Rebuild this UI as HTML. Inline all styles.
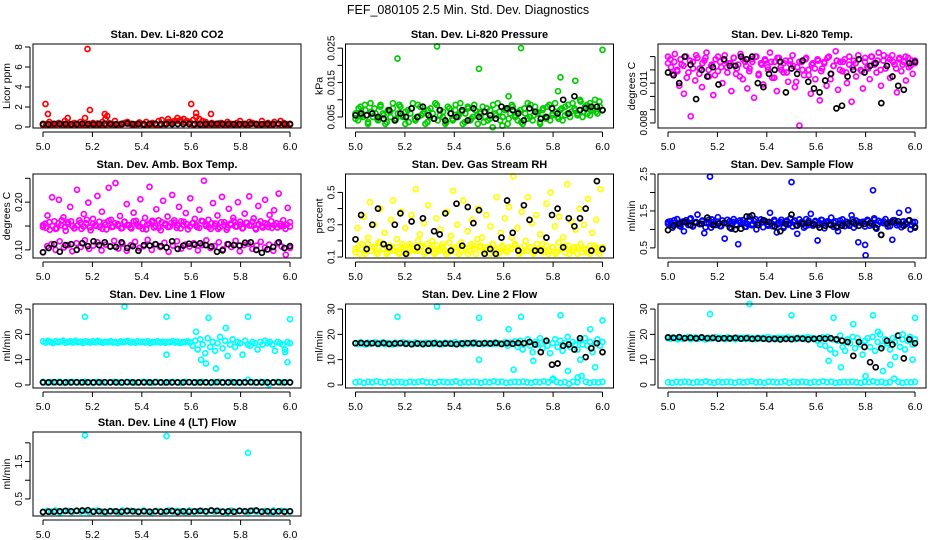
<!DOCTYPE html>
<html><head><meta charset="utf-8"><style>
html,body{margin:0;padding:0;background:#fff;}
svg{display:block;font-family:"Liberation Sans",sans-serif;}
</style></head><body>
<svg id="chart" width="936" height="540" viewBox="0 0 936 540" xmlns="http://www.w3.org/2000/svg">
<rect x="0" y="0" width="936" height="540" fill="#fff"/>
<text x="468" y="14" text-anchor="middle" font-size="12.5">FEF_080105  2.5 Min. Std. Dev. Diagnostics</text>
</svg>
<script>
const xTicks=[5.0,5.2,5.4,5.6,5.8,6.0];
const xTickLabels=['5.0','5.2','5.4','5.6','5.8','6.0'];

const co2Main=[0.3,0.2,0.5,0.3,0.2,0.4,0.3,0.6,0.2,0.3,0.4,0.2,0.5,0.3,0.2,0.3,0.4,0.2,0.3,0.5,0.8,0.4,0.3,0.6,0.2,0.3,0.4,0.5,0.3,0.2,0.3,0.4,0.2,0.5,0.3,0.4,0.2,0.6,0.7,0.3,0.8,0.5,0.6,0.9,0.7,0.8,0.6,0.5,0.7,1.0,0.8,0.6,0.5,0.3,0.4,0.3,0.2,0.4,0.3,0.5,0.3,0.2,0.4,0.6,0.3,0.2,0.5,0.4,0.3,0.2,0.6,0.3,0.4,0.2,0.5,0.3,0.6,0.4,0.2,0.3];
const co2Low=[0.2,0.3,0.2,0.25,0.3,0.2,0.35,0.2,0.3,0.25,0.2,0.3,0.2,0.35,0.25,0.2,0.3,0.2,0.25,0.3,0.4,0.3,0.25,0.45,0.3,0.2,0.3,0.25,0.2,0.3,0.5,0.4,0.6,0.5,0.45,0.3,0.2,0.3,0.25,0.2,0.3,0.2,0.35,0.25,0.2,0.3,0.2,0.25,0.3,0.2,0.35,0.25,0.2,0.3,0.2,0.25,0.3,0.2,0.3,0.25];
const co2Black=[0.3,0.28,0.32,0.3,0.3,0.28,0.3,0.32,0.3,0.29,0.3,0.31,0.3,0.28,0.3,0.35,0.3,0.3,0.28,0.3,0.32,0.3,0.3,0.29,0.3,0.3,0.31,0.3,0.28,0.3,0.3,0.32,0.3,0.3,0.29,0.3,0.3,0.31,0.3,0.28,0.3,0.3,0.32,0.3,0.3];
const co2OutX=[5.01,5.02,5.18,5.19,5.25,5.6,5.62,5.68,5.1,5.17,5.26];
const co2OutY=[2.3,1.3,7.8,1.7,1.3,2.3,1.4,1.3,0.9,0.9,1.1];
const co2Ticks=[0,2,4,6,8];
const co2TickLabels=['0','2','4','6','8'];

const pressMain=[.006,.004,.008,.005,.007,.003,.009,.005,.006,.004,.008,.006,.003,.007,.005,.009,.004,.006,.008,.005,.003,.007,.006,.009,.004,.005,.008,.006,.003,.007,.005,.006,.009,.004,.007,.005,.003,.008,.006,.004,.007,.005,.009,.003,.006,.008,.004,.005,.007,.003,.006,.008,.005,.004,.007,.002,.006,.009,.004,.005,.007,.003,.006,.008,.005,.004,.007,.003,.006,.009,.005,.004,.008,.006,.003,.007,.005,.008,.004,.006,.009,.005,.007,.004,.008,.006,.005,.009,.007,.006,.010,.005,.008,.006,.009,.007,.010,.006,.008,.007];
const pressMain2=[.0045,.0075,.0055,.0085,.0035,.0065,.0075,.0045,.0085,.0055,.0035,.0065,.0075,.0045,.0085,.0055,.0065,.0035,.0075,.0045,.0085,.0055,.0065,.0035,.0075,.0045,.0085,.0055,.0065,.0035,.0075,.0045,.0085,.0055,.0065,.0035,.0075,.0045,.0085,.0055,.0065,.0035,.0075,.0045,.0085,.0055,.0065,.0025,.0075,.0045,.0085,.0055,.0065,.0035,.0075,.0045,.0085,.0055,.0065,.0035,.0075,.0045,.0085,.0055,.0065,.0045,.0075,.0055,.0085,.0065,.0075,.0055,.0095,.0065,.0085,.0055,.0075,.0065,.0095,.0070];
const pressBlack=[.0055,.006,.0055,.006,.005,.0045,.007,.004,.006,.005,.0075,.005,.008,.0055,.0045,.007,.004,.006,.005,.007,.004,.0075,.005,.0065,.0055,.0045,.008,.0075,.007,.006,.004,.0075,.0065,.0045,.005,.0075,.006,.010,.006,.011,.007,.0075,.008,.008,.007];
const pressOutX=[5.17,5.33,5.5,5.67,5.83,5.89,5.82,6.0,5.62];
const pressOutY=[0.022,0.0255,0.019,0.025,0.0165,0.0155,0.0125,0.0245,0.011];
const pressTicks=[0.005,0.010,0.015,0.020,0.025];
const pressTickLabels=['0.005','','0.015','','0.025'];

const tempMain=[.0125,.0128,.0117,.0132,.0120,.0108,.0124,.0102,.0130,.0118,.0085,.0126,.0112,.0129,.0121,.0107,.0127,.0133,.0115,.0123,.0101,.0128,.0119,.0126,.0110,.0131,.0122,.0125,.0104,.0129,.0117,.0124,.0132,.0113,.0126,.0106,.0121,.0128,.0099,.0130,.0116,.0125,.0109,.0127,.0122,.0133,.0114,.0126,.0104,.0129,.0120,.0118,.0127,.0111,.0124,.0131,.0107,.0122,.0078,.0126,.0116,.0129,.0120,.0102,.0125,.0113,.0128,.0097,.0121,.0126,.0108,.0130,.0117,.0123,.0134,.0105,.0126,.0119,.0128,.0110,.0124,.0096,.0127,.0115,.0131,.0120,.0106,.0129,.0122,.0113,.0130,.0125,.0118,.0133,.0108,.0127,.0121,.0129,.0114,.0131,.0124,.0103,.0128,.0119,.0126,.0112,.0129,.0123,.0117,.0127];
const tempMain2=[.0130,.0122,.0126,.0119,.0128,.0123,.0114,.0127,.0121,.0131,.0117,.0125,.0129,.0120,.0124,.0116,.0130,.0122,.0127,.0118,.0125,.0129,.0121,.0115,.0128,.0123,.0119,.0126,.0130,.0117,.0124,.0128,.0120,.0126,.0114,.0129,.0122,.0125,.0118,.0127,.0123,.0111,.0126,.0120,.0128,.0116,.0124,.0121,.0127,.0119,.0125,.0129,.0113,.0123,.0127,.0120,.0126,.0118,.0130,.0122,.0125,.0128,.0119,.0126,.0121,.0130,.0124,.0127,.0120,.0131,.0123,.0128,.0126,.0121,.0129,.0124,.0130,.0122,.0127,.0125];
const tempBlack=[.0118,.0116,.0110,.0130,.0124,.0098,.0120,.0115,.0122,.0109,.0128,.0123,.0123,.0130,.0128,.0130,.0110,.0107,.0117,.0120,.0126,.0103,.0121,.0117,.0127,.0111,.0106,.0103,.0112,.0117,.0091,.0093,.0115,.0120,.0128,.0118,.0123,.0125,.0095,.0123,.0115,.0108,.0105,.0125,.0126];
const tempTicks=[0.008,0.009,0.010,0.011,0.012,0.013];
const tempTickLabels=['0.008','','','0.011','',''];

const ambMain=[.148,.155,.172,.142,.210,.160,.145,.205,.152,.168,.140,.158,.190,.150,.146,.226,.162,.144,.175,.156,.199,.141,.165,.151,.213,.148,.180,.157,.143,.230,.163,.149,.240,.154,.171,.146,.159,.196,.152,.145,.178,.161,.150,.206,.144,.167,.153,.232,.158,.147,.185,.162,.141,.203,.155,.170,.149,.215,.157,.146,.190,.160,.152,.177,.143,.208,.156,.165,.148,.184,.161,.245,.150,.163,.144,.198,.155,.172,.147,.211,.158,.142,.186,.153,.167,.149,.200,.159,.145,.176,.157,.212,.151,.166,.143,.192,.160,.147,.205,.154,.173,.146,.183,.156,.218,.150,.162,.144,.188,.158];
const ambMain2=[.152,.146,.158,.150,.144,.156,.162,.148,.154,.160,.145,.151,.157,.149,.163,.147,.155,.150,.159,.144,.153,.161,.148,.156,.151,.145,.158,.152,.147,.160,.154,.149,.157,.143,.155,.161,.150,.146,.158,.153,.148,.156,.162,.151,.145,.159,.154,.149,.157,.152,.146,.160,.153,.148,.156,.150,.144,.158,.152,.147,.155,.161,.149,.153,.146,.157,.151,.159,.145,.154,.150,.156,.148,.160,.152,.147,.155,.150,.153,.149];
const ambLow=[.095,.108,.112,.100,.118,.105,.110,.097,.114,.106,.120,.102,.109,.116,.099,.111,.107,.119,.103,.113,.098,.110,.117,.104,.108,.121,.100,.112,.106,.115,.096,.109,.118,.103,.111,.107,.114,.099,.110,.120,.104,.108,.116,.101,.112,.106,.119,.097,.110,.113,.102,.109,.117,.105,.111,.098,.114,.107,.090,.104];
const ambBlack=[.095,.104,.112,.096,.110,.112,.100,.114,.108,.118,.110,.116,.107,.106,.116,.104,.108,.098,.110,.109,.112,.108,.105,.118,.102,.109,.113,.111,.114,.110,.107,.096,.099,.112,.110,.109,.115,.116,.100,.094,.101,.106,.116,.104,.108];
const ambTicks=[0.10,0.15,0.20,0.25];
const ambTickLabels=['0.10','','0.20',''];

const rhMain=[0.15,0.28,0.12,0.18,0.35,0.14,0.22,0.44,0.16,0.30,0.13,0.19,0.40,0.15,0.25,0.12,0.17,0.33,0.45,0.14,0.21,0.13,0.38,0.16,0.28,0.12,0.18,0.36,0.15,0.52,0.14,0.24,0.17,0.31,0.13,0.42,0.16,0.20,0.12,0.34,0.15,0.27,0.18,0.14,0.38,0.13,0.23,0.51,0.16,0.30,0.12,0.19,0.45,0.15,0.26,0.14,0.33,0.17,0.12,0.40,0.16,0.22,0.13,0.36,0.15,0.29,0.18,0.14,0.47,0.12,0.25,0.16,0.34,0.13,0.41,0.15,0.60,0.17,0.28,0.12,0.38,0.14,0.20,0.47,0.16,0.31,0.13,0.36,0.15,0.24,0.18,0.14,0.43,0.12,0.50,0.16,0.29,0.13,0.35,0.15,0.22,0.17,0.55,0.12,0.32,0.14,0.27,0.16,0.40,0.13,0.30,0.15,0.46,0.12,0.25,0.17,0.33,0.14,0.52,0.16];
const rhLow=[0.13,0.17,0.15,0.12,0.18,0.14,0.16,0.12,0.19,0.15,0.13,0.17,0.14,0.16,0.12,0.18,0.15,0.13,0.17,0.14,0.20,0.16,0.12,0.18,0.15,0.13,0.17,0.14,0.16,0.12,0.19,0.15,0.13,0.17,0.14,0.16,0.12,0.18,0.15,0.21,0.17,0.14,0.16,0.12,0.18,0.15,0.13,0.17,0.14,0.16,0.22,0.18,0.15,0.13,0.17,0.14,0.16,0.12,0.18,0.15,0.13,0.17,0.14,0.16,0.12,0.19,0.15,0.13,0.17,0.14,0.16,0.12,0.18,0.15,0.13,0.17,0.14,0.16,0.12,0.15];
const rhBlack=[.21,.36,.15,.30,.40,.18,.16,.30,.37,.12,.32,.16,.34,.14,.26,.24,.37,.14,.43,.17,.41,.31,.39,.12,.15,.12,.22,.45,.25,.14,.42,.33,.14,.14,.22,.36,.40,.16,.34,.29,.34,.40,.14,.57,.15];
const rhTicks=[0.1,0.2,0.3,0.4,0.5];
const rhTickLabels=['0.1','','0.3','','0.5'];

const flowMain=[1.15,1.22,1.05,1.18,1.28,1.10,1.20,0.95,1.25,1.12,1.30,1.08,1.18,1.40,1.14,1.22,0.90,1.17,1.26,1.05,1.20,1.12,1.33,1.09,1.24,0.75,1.16,1.21,1.02,1.28,1.13,0.60,1.19,1.25,1.07,1.15,1.35,1.11,1.23,1.00,1.18,1.27,1.06,1.20,1.14,1.45,1.09,1.22,0.92,1.17,1.26,1.04,1.21,1.13,1.30,1.08,1.24,0.88,1.16,1.20,1.05,1.28,1.12,1.42,1.10,1.23,0.70,1.17,1.25,1.03,1.19,1.14,1.32,1.07,1.22,0.95,1.16,1.27,1.09,1.20,1.12,1.38,1.05,1.24,0.65,1.18,1.21,0.58,1.26,1.10,1.15,1.30,1.02,1.23,0.85,1.17,1.28,1.08,1.19,0.72,1.25,1.11,1.45,1.06,1.22,1.14,1.52,1.00,1.20,1.08];
const flowMain2=[1.20,1.12,1.25,1.16,1.08,1.22,1.18,1.28,1.10,1.20,1.15,1.24,1.06,1.19,1.27,1.13,1.21,1.09,1.17,1.26,1.14,1.20,1.11,1.24,1.18,1.07,1.22,1.15,1.28,1.12,1.19,1.23,1.10,1.17,1.26,1.13,1.20,1.08,1.24,1.16,1.21,1.12,1.27,1.18,1.09,1.23,1.15,1.20,1.11,1.26,1.17,1.22,1.13,1.19,1.05,1.24,1.16,1.21,1.10,1.27,1.14,1.20,1.18,1.08,1.23,1.15,1.26,1.12,1.19,1.22,1.16,1.09,1.25,1.18,1.13,1.21,1.17,1.24,1.11,1.20];
const flowBlack=[0.98,1.10,1.15,1.20,1.12,1.18,1.15,1.32,1.12,1.15,1.18,1.05,1.00,1.02,1.35,1.38,1.12,1.25,1.20,1.08,0.95,1.15,1.40,1.10,1.15,1.18,1.14,1.05,1.10,1.12,1.08,1.10,1.15,1.20,1.10,1.15,1.18,1.05,0.85,1.15,1.20,1.22,1.10,1.25,1.05];
const flowOutX=[5.17,5.5,5.83,5.8];
const flowOutY=[2.43,2.28,2.06,0.3];
const flowTicks=[0.5,1.0,1.5,2.0,2.5];
const flowTickLabels=['0.5','','1.5','','2.5'];

const l1High=[17.2,16.8,17.4,17.0,16.6,17.3,16.9,17.1,17.5,16.7,17.0,17.2,16.8,17.4,16.9,17.1,16.6,17.3,17.0,16.8,17.2,16.9,17.4,17.0,16.7,17.1,16.9,17.3,16.8,17.0,16.6,17.2,16.9,17.1,17.4,16.8,17.0,16.7,17.2,16.9,17.1,16.8,17.3,16.6,17.0,16.9,17.2,16.8,17.1,16.7,17.0,16.9,17.3,16.8,17.1,16.6,17.0,16.9,17.2,16.8,15.5,17.5,14.0,18.0,16.0,12.5,18.5,15.0,17.0,13.5,16.5,19.0,14.5,17.5,11.5,16.0,18.0,15.0,17.0,16.5,12.0,17.5,16.0,15.5,17.0,16.5,14.0,17.0,16.0,17.5,16.5,17.0,16.0,13.5,17.0,16.5,16.0,14.0,17.0,16.5];
const l1Low=[1.2,0.9,1.1,1.0,1.3,0.8,1.1,1.2,0.9,1.0,1.3,1.1,0.8,1.2,1.0,0.9,1.1,1.3,1.0,0.8,1.2,1.1,0.9,1.0,1.3,1.1,0.8,1.2,1.0,0.9,1.1,1.2,1.0,0.8,1.3,1.1,0.9,1.0,1.2,1.1,0.8,1.0,1.3,0.9,1.1,1.2,1.0,0.8,1.1,2.0,1.0,0.9,1.2,1.1,0.3,1.0,1.2,0.9,1.1,1.0];
const l1Black=[1.0,1.0,1.1,1.0,1.0,1.0,1.1,1.0,1.0,1.0,1.0,1.1,1.0,1.0,1.0,1.1,1.0,1.0,1.0,1.0,1.1,1.0,1.0,1.0,1.0,1.0,1.1,1.0,1.0,1.0,1.0,1.1,1.0,1.0,1.0,1.0,1.0,1.1,1.0,1.0,1.0,1.0,1.1,1.0,1.0];
const l1OutX=[5.17,5.33,5.5,5.5,5.67,5.83,6.0,5.62,5.64,5.66,5.7,5.74,5.99,5.98];
const l1OutY=[27,31,27,12,26.5,27,26,21,10,8.5,6.5,22.5,9,13];

const l2High=[16.5,16.2,16.8,16.4,16.0,16.7,16.3,16.6,16.9,16.1,16.5,16.8,16.2,16.6,16.4,16.0,16.7,16.3,16.5,16.9,16.2,16.6,16.4,16.1,16.8,16.3,16.5,16.0,16.7,16.4,16.6,16.2,16.8,16.3,16.5,16.1,16.7,16.4,16.6,16.2,16.9,16.3,16.5,16.0,16.7,16.4,16.6,16.2,16.8,16.3,16.5,16.1,16.7,16.4,16.6,16.2,16.8,16.4,16.5,16.3,17.0,15.5,16.8,16.2,17.2,15.0,17.5,14.0,16.5,18.0,15.5,13.0,17.0,16.0,18.5,14.5,17.0,15.5,12.5,16.5,18.0,15.0,17.5,13.5,16.5,19.0,15.0,17.0,16.0,14.0,17.5,16.0,18.5,15.5,17.0,13.0,16.5,18.0,15.5,17.0];
const l2Low=[1.1,1.3,0.9,1.2,1.0,1.4,1.1,0.9,1.3,1.0,1.2,1.1,0.9,1.3,1.0,1.2,1.4,1.0,1.1,0.9,1.3,1.2,1.0,1.1,1.4,0.9,1.2,1.0,1.3,1.1,0.9,1.2,1.0,1.4,1.1,1.3,0.9,1.0,1.2,1.1,1.3,1.0,0.9,1.2,1.1,1.4,1.0,2.0,1.2,0.9,1.1,0.5,1.3,1.0,3.5,1.2,0.9,1.1,1.0,1.2];
const l2Black=[16.5,16.6,16.4,16.5,16.3,16.6,16.2,16.4,16.5,16.3,16.1,16.4,16.2,16.3,16.5,16.2,16.4,16.3,16.1,16.4,16.5,16.6,16.3,16.5,16.4,16.6,16.2,16.5,16.3,16.6,16.5,17.0,16.0,13.0,17.5,8.0,8.5,15.5,16.0,14.0,18.5,11.0,14.5,16.5,13.0];
const l2OutX=[5.17,5.33,5.5,5.5,5.62,5.64,5.67,5.72,5.8,5.83,5.86,5.9,5.95,5.97,6.0,5.91];
const l2OutY=[27,31,26.5,10,22,6,27,9.5,2.5,27.5,5.5,3,22,7,25.5,10];

const l3High=[18.5,18.2,18.8,18.4,18.0,18.7,18.3,18.6,18.9,18.1,18.5,18.8,18.2,18.6,18.4,18.0,18.7,18.3,18.5,18.9,18.2,18.6,18.4,18.1,18.8,18.3,18.5,18.0,18.7,18.4,18.6,18.2,18.8,18.3,18.5,18.1,18.7,18.4,18.6,18.2,18.9,18.3,18.5,18.0,18.7,18.4,18.6,18.2,18.8,18.3,18.5,18.1,18.7,18.4,18.6,18.2,18.8,18.4,18.5,18.3,17.5,16.0,18.8,15.5,19.0,14.0,18.0,12.5,17.5,19.5,15.0,13.5,18.0,16.5,19.0,14.5,18.5,16.0,12.0,17.5,18.5,15.0,19.0,13.5,17.0,20.0,15.5,18.0,16.5,14.0,18.5,17.0,19.5,15.0,18.0,14.0,17.5,19.0,16.0,18.0];
const l3Low=[1.1,0.9,1.2,1.0,1.3,1.1,0.9,1.2,1.0,1.4,1.1,0.9,1.3,1.0,1.2,1.1,0.9,1.3,1.0,1.2,1.4,1.0,1.1,0.9,1.3,1.2,1.0,1.1,1.4,0.9,1.2,1.0,1.3,1.1,0.9,1.2,1.0,1.4,1.1,1.3,0.9,1.0,1.2,1.1,1.3,1.0,0.9,1.2,1.1,1.4,1.0,1.2,0.9,1.1,2.5,1.2,0.9,1.1,1.0,1.2];
const l3Black=[18.8,18.6,18.9,18.5,18.7,18.4,18.8,18.5,18.6,18.3,18.5,18.4,18.6,18.3,18.5,18.2,18.4,18.3,18.1,18.2,18.0,18.2,18.1,18.4,18.3,18.0,18.2,18.4,18.3,18.5,18.0,17.5,17.0,11.5,17.0,15.0,9.0,7.0,14.5,17.5,16.0,19.5,10.5,18.0,16.5];
const l3OutX=[5.17,5.33,5.5,5.65,5.67,5.7,5.75,5.8,5.83,5.85,5.87,5.9,5.92,5.95,5.99,6.0];
const l3OutY=[28,32,27.5,9.5,26.5,7,24,3.5,27.5,21,5.5,8,11,20,10,26.5];
const lineTicks=[0,10,20,30];
const lineTickLabels=['0','10','20','30'];

const l4Main=[0.15,0.18,0.16,0.19,0.14,0.17,0.18,0.15,0.19,0.16,0.17,0.15,0.18,0.19,0.16,0.14,0.18,0.17,0.15,0.19,0.16,0.18,0.17,0.15,0.19,0.16,0.14,0.18,0.17,0.15,0.19,0.16,0.18,0.17,0.15,0.19,0.16,0.17,0.18,0.15,0.19,0.16,0.18,0.17,0.14,0.19,0.16,0.18,0.17,0.15,0.19,0.16,0.17,0.18,0.15,0.19,0.16,0.18,0.17,0.16];
const l4Black=[0.15,0.16,0.16,0.17,0.18,0.17,0.18,0.19,0.2,0.16,0.17,0.16,0.17,0.17,0.16,0.18,0.17,0.16,0.17,0.16,0.17,0.16,0.17,0.18,0.15,0.17,0.16,0.17,0.18,0.17,0.19,0.18,0.16,0.17,0.16,0.18,0.17,0.18,0.19,0.16,0.17,0.16,0.17,0.16,0.17];
const l4OutX=[5.17,5.5,5.83];
const l4OutY=[2.2,2.18,1.73];
const l4Ticks=[0.5,1.0,1.5,2.0];
const l4TickLabels=['0.5','','1.5',''];

const RED='#ff0000',GRN='#00cc00',MAG='#ff00ff',YEL='#ffff00',BLU='#0000ff',CYN='#00ffff',BLK='#000000';
const panels=[
 {name:'co2',title:'Stan. Dev. Li-820 CO2',ylab:'Licor ppm',col:0,row:0,ymin:-0.1,ymax:8.3,ticks:co2Ticks,labels:co2TickLabels,
  series:[[co2Main,RED],[co2Low,RED],[co2Black,BLK]],outX:co2OutX,outY:co2OutY,outColor:RED},
 {name:'pressure',title:'Stan. Dev. Li-820 Pressure',ylab:'kPa',col:1,row:0,ymin:0.0018,ymax:0.0262,ticks:pressTicks,labels:pressTickLabels,
  series:[[pressMain,GRN],[pressMain2,GRN],[pressBlack,BLK]],outX:pressOutX,outY:pressOutY,outColor:GRN},
 {name:'temp',title:'Stan. Dev. Li-820 Temp.',ylab:'degrees C',col:2,row:0,ymin:0.00762,ymax:0.01395,ticks:tempTicks,labels:tempTickLabels,
  series:[[tempMain,MAG],[tempMain2,MAG],[tempBlack,BLK]],outX:[],outY:[],outColor:MAG},
 {name:'amb-box-temp',title:'Stan. Dev. Amb. Box Temp.',ylab:'degrees C',col:0,row:1,ymin:0.083,ymax:0.259,ticks:ambTicks,labels:ambTickLabels,
  series:[[ambMain,MAG],[ambMain2,MAG],[ambLow,MAG],[ambBlack,BLK]],outX:[],outY:[],outColor:MAG},
 {name:'gas-rh',title:'Stan. Dev. Gas Stream RH',ylab:'percent',col:1,row:1,ymin:0.094,ymax:0.614,ticks:rhTicks,labels:rhTickLabels,
  series:[[rhMain,YEL],[rhLow,YEL],[rhBlack,BLK]],outX:[],outY:[],outColor:YEL},
 {name:'sample-flow',title:'Stan. Dev. Sample Flow',ylab:'ml/min',col:2,row:1,ymin:0.226,ymax:2.5,ticks:flowTicks,labels:flowTickLabels,
  series:[[flowMain,BLU],[flowMain2,BLU],[flowBlack,BLK]],outX:flowOutX,outY:flowOutY,outColor:BLU},
 {name:'line1-flow',title:'Stan. Dev. Line 1 Flow',ylab:'ml/min',col:0,row:2,ymin:-1.2,ymax:32,ticks:lineTicks,labels:lineTickLabels,
  series:[[l1High,CYN],[l1Low,CYN],[l1Black,BLK]],outX:l1OutX,outY:l1OutY,outColor:CYN},
 {name:'line2-flow',title:'Stan. Dev. Line 2 Flow',ylab:'ml/min',col:1,row:2,ymin:-1.2,ymax:32,ticks:lineTicks,labels:lineTickLabels,
  series:[[l2High,CYN],[l2Low,CYN],[l2Black,BLK]],outX:l2OutX,outY:l2OutY,outColor:CYN},
 {name:'line3-flow',title:'Stan. Dev. Line 3 Flow',ylab:'ml/min',col:2,row:2,ymin:-1.2,ymax:32,ticks:lineTicks,labels:lineTickLabels,
  series:[[l3High,CYN],[l3Low,CYN],[l3Black,BLK]],outX:l3OutX,outY:l3OutY,outColor:CYN},
 {name:'line4-flow',title:'Stan. Dev. Line 4 (LT) Flow',ylab:'ml/min',col:0,row:3,ymin:0.044,ymax:2.29,ticks:l4Ticks,labels:l4TickLabels,
  series:[[l4Main,CYN],[l4Black,BLK]],outX:l4OutX,outY:l4OutY,outColor:CYN}
];
const colL=[33,345.5,658], rowT=[44,174,304,432], W=268, H=84;
const NS='http://www.w3.org/2000/svg';
const svg=document.getElementById('chart');
function mk(tag,attrs,parent){const e=document.createElementNS(NS,tag);for(const k in attrs)e.setAttribute(k,attrs[k]);(parent||svg).appendChild(e);return e;}

panels.forEach(p=>{
  const L=colL[p.col],T=rowT[p.row],B=T+H;
  const xs=v=>L+10+(v-5)*247;
  const ys=v=>B-(v-p.ymin)/(p.ymax-p.ymin)*H;
  const g=mk('g',{});
  
  
  const t=mk('text',{x:L+W/2,y:T-6,'text-anchor':'middle','font-size':'11','font-weight':'bold'},g);
  t.textContent=p.title;
  
  
  const yl=mk('text',{x:0,y:0,'text-anchor':'middle','font-size':'10.5',transform:`translate(${L-23},${T+H/2}) rotate(-90)`},g);
  yl.textContent=p.ylab;
  
  
  const marks=mk('g',{fill:'none','stroke-width':'1.7'},g);
  
  
  p.series.forEach(([vals,color])=>{
    const n=vals.length;
    vals.forEach((v,i)=>{
      const c=mk('circle',{cx:xs(5+i/(n-1)).toFixed(1),cy:ys(v).toFixed(1),r:'2.5',stroke:color},marks);
      
      
    });
  });
  p.outX.forEach((xv,i)=>{
    const c=mk('circle',{cx:xs(xv).toFixed(1),cy:ys(p.outY[i]).toFixed(1),r:'2.5',stroke:p.outColor},marks);
    
    
  });
  const box=mk('rect',{x:L,y:T,width:W,height:H,fill:'none',stroke:'#000','stroke-width':'1'},g);
  
  
  const ax=B+4;
  const xa=mk('line',{x1:xs(5),x2:xs(6),y1:ax,y2:ax,stroke:'#000'},g);
  
  
  xTicks.forEach((v,i)=>{
    mk('line',{x1:xs(v),x2:xs(v),y1:ax,y2:ax+5,stroke:'#000'},g);
    const lt=mk('text',{x:xs(v),y:B+22,'text-anchor':'middle','font-size':'10.5'},g);
    lt.textContent=xTickLabels[i];
    
    
  });
  const ayx=L-3;
  const tv=p.ticks;
  const ya=mk('line',{x1:ayx,x2:ayx,y1:ys(tv[0]),y2:ys(tv[tv.length-1]),stroke:'#000'},g);
  
  
  tv.forEach((v,i)=>{
    mk('line',{x1:ayx-5,x2:ayx,y1:ys(v),y2:ys(v),stroke:'#000'},g);
    if(p.labels[i]){
      const lt=mk('text',{x:0,y:0,'text-anchor':'middle','font-size':'10',transform:`translate(${ayx-8},${ys(v)}) rotate(-90)`},g);
      lt.textContent=p.labels[i];
      
      
    }
  });
});
</script>
</body></html>
